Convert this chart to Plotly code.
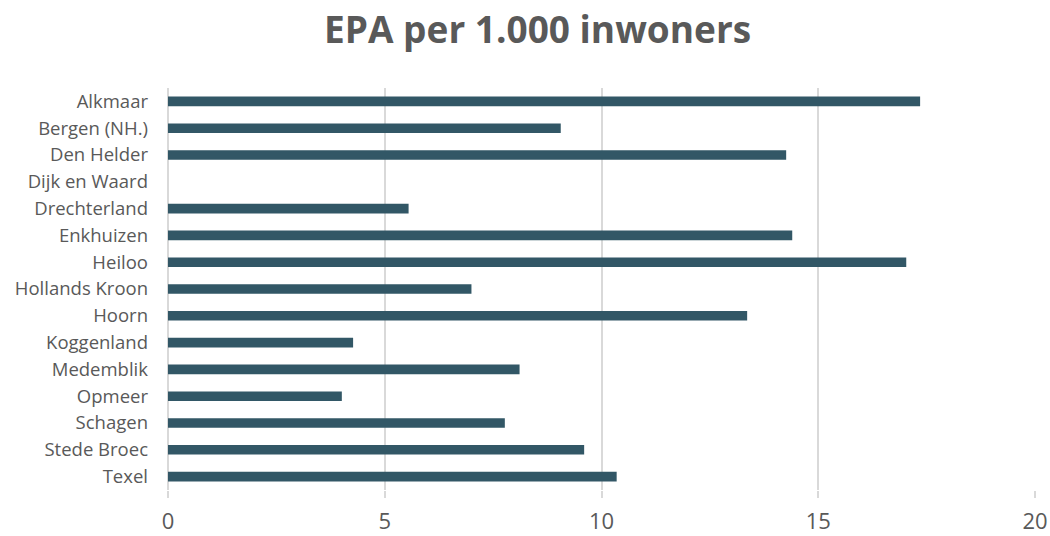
import plotly.graph_objects as go

# EPA per 1.000 inwoners per gemeente
gemeenten = [
    "Alkmaar", "Bergen (NH.)", "Den Helder", "Dijk en Waard", "Drechterland",
    "Enkhuizen", "Heiloo", "Hollands Kroon", "Hoorn", "Koggenland",
    "Medemblik", "Opmeer", "Schagen", "Stede Broec", "Texel",
]
epa = [17.35, 9.06, 14.26, None, 5.55, 14.40, 17.03, 7.0, 13.36, 4.27,
       8.11, 4.01, 7.77, 9.60, 10.35]
x_ticks = [0, 5, 10, 15, 20]

grijs = "#595959"

fig = go.Figure(go.Bar(
    x=epa,
    y=gemeenten,
    orientation="h",
    marker=dict(color="#325766", line=dict(width=0)),
))

fig.update_layout(
    width=1050,
    height=536,
    paper_bgcolor="white",
    plot_bgcolor="white",
    margin=dict(l=168, r=15, t=88, b=46),
    bargap=0.64,
    showlegend=False,
    font=dict(family="Open Sans", color=grijs),
    title=dict(
        text="<b>EPA per 1.000 inwoners</b>",
        x=0.512, xanchor="center", y=0.944, yanchor="middle",
        font=dict(size=37, color=grijs, family="Open Sans"),
    ),
    xaxis=dict(
        range=[0, 20],
        tickvals=x_ticks,
        automargin=False,
        showgrid=True,
        gridcolor="#d9d9d9",
        gridwidth=1.5,
        zeroline=True,
        zerolinecolor="#d9d9d9",
        zerolinewidth=1.5,
        ticks="outside",
        ticklen=7,
        tickcolor="#d9d9d9",
        tickwidth=1.5,
        ticklabelstandoff=5,
        tickfont=dict(size=22, color=grijs),
    ),
    yaxis=dict(
        autorange="reversed",
        automargin=False,
        showgrid=False,
        ticks="",
        ticklabelstandoff=19,
        tickfont=dict(size=18.5, color=grijs),
    ),
)

# body-marge weg zodat de figuur precies in het venster past
fig.write_html(
    "out.html",
    config={"displayModeBar": False},
    post_script="document.body.style.margin='0';document.body.style.overflow='hidden';",
)
